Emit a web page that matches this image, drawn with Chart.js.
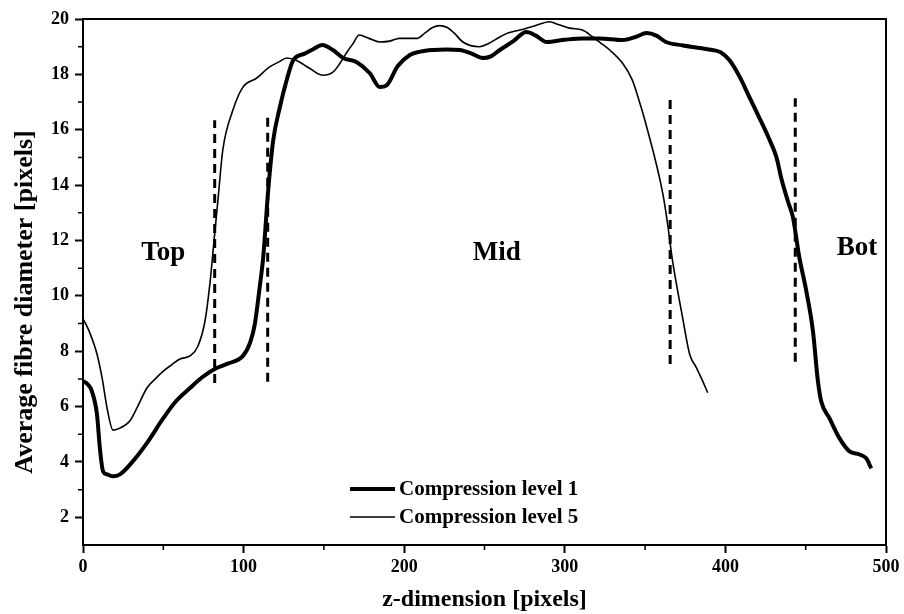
<!DOCTYPE html>
<html>
<head>
<meta charset="utf-8">
<script src="https://cdn.jsdelivr.net/npm/chart.js"></script>
<style>
  body { margin: 0; background: #fff; }
  canvas { display: block; }
</style>
</head>
<body>
<canvas id="chartFibre" width="904" height="614"></canvas>
<script>
const seriesNames = ['Compression level 1', 'Compression level 5'];

const level1X = [0, 3, 5.5, 8.7, 10.5, 12.5, 15, 18.7, 23, 31, 40, 50, 58, 66.6, 74, 82, 90, 99.6, 104, 107, 110,
  112.2, 115.3, 118.4, 122.6, 126.8, 130.9, 138, 143, 149, 155.6, 162, 170.5, 178.6, 184.8, 189, 196, 203.5, 210,
  218, 226, 234.6, 242, 249, 254, 259.5, 268, 276, 282, 288.7, 300, 311, 321.7, 336, 344, 351, 357, 363, 373,
  384, 392, 397, 402.6, 409, 415, 421, 427, 431.8, 435, 439, 442, 446, 450.3, 454.5, 457.6, 459.6, 464.8,
  471, 477.3, 483.5, 487.7, 490.8];
const level1Y = [6.92, 6.8, 6.56, 5.72, 4.5, 3.66, 3.55, 3.48, 3.55, 4.02, 4.7, 5.58, 6.2, 6.67, 7.05, 7.36, 7.55, 7.83, 8.3, 8.98, 10.3,
  11.39, 13.8, 15.6, 16.82, 17.79, 18.51, 18.75, 18.9, 19.06, 18.88, 18.59, 18.44, 18.04, 17.54, 17.6, 18.3, 18.7, 18.82,
  18.88, 18.9, 18.88, 18.75, 18.59, 18.65, 18.88, 19.2, 19.53, 19.4, 19.17, 19.25, 19.3, 19.3, 19.24, 19.35, 19.49, 19.4, 19.17, 19.05,
  18.95, 18.88, 18.8, 18.51, 17.9, 17.17, 16.45, 15.7, 15.0, 14.2, 13.4, 12.85, 11.4, 10.2, 8.73, 6.92, 6.2, 5.58,
  4.86, 4.38, 4.27, 4.13, 3.77];

const level5X = [0, 4, 8.7, 12, 15, 18.7, 22, 29, 34, 39.8, 45, 50, 55, 60.4, 66.6, 71.6, 76, 79, 82, 84, 87, 93.3,
  99.6, 108, 116, 122, 127, 133, 141, 149, 155.6, 160, 164, 168, 172, 178, 184.8, 191, 197, 208, 213, 218, 222, 226.5,
  231, 236.5, 247, 252, 259.5, 265, 272, 281, 290.6, 296, 303, 311, 317.4, 322, 328, 336, 342, 346, 351, 361,
  364, 367, 373.4, 377.7, 382, 386, 389];
const level5Y = [9.17, 8.7, 7.9, 7.0, 5.94, 5.15, 5.2, 5.47, 6.0, 6.67, 7.0, 7.28, 7.5, 7.72, 7.83, 8.19, 9.1, 10.43, 12.25, 13.44, 15.25, 16.7,
  17.54, 17.86, 18.26, 18.45, 18.59, 18.5, 18.22, 17.97, 18.08, 18.4, 18.77, 19.1, 19.42, 19.3, 19.17, 19.2, 19.3, 19.3, 19.5, 19.7, 19.76, 19.7,
  19.5, 19.17, 19.0, 19.1, 19.35, 19.5, 19.6, 19.75, 19.9, 19.8, 19.67, 19.6, 19.35, 19.15, 18.88, 18.4, 17.8, 17.1, 16.1, 13.7,
  12.6, 11.3, 9.2, 7.9, 7.4, 6.9, 6.5];

// region boundaries (dashed verticals)
const dividerX = [82, 115, 365.6, 443.5];
const dividerLow = [6.85, 6.9, 7.54, 7.62];
const dividerHigh = [16.34, 16.45, 17.07, 17.14];

const regionLabels = ['Top', 'Mid', 'Bot'];

const xTicks = [0, 100, 200, 300, 400, 500];
const yTicks = [2, 4, 6, 8, 10, 12, 14, 16, 18, 20];

const FONT = '"Liberation Serif", "Times New Roman", serif';

const toPoints = (xs, ys) => xs.map((x, i) => ({x: x, y: ys[i]}));

const datasets = [
  {
    label: seriesNames[0],
    data: toPoints(level1X, level1Y),
    borderColor: '#000',
    borderWidth: 4,
    pointRadius: 0,
    cubicInterpolationMode: 'monotone',
  },
  {
    label: seriesNames[1],
    data: toPoints(level5X, level5Y),
    borderColor: '#000',
    borderWidth: 1.6,
    pointRadius: 0,
    cubicInterpolationMode: 'monotone',
  },
];

dividerX.forEach((x, i) => {
  datasets.push({
    label: 'divider',
    data: [{x: x, y: dividerLow[i]}, {x: x, y: dividerHigh[i]}],
    borderColor: '#000',
    borderWidth: 3,
    borderDash: [9, 6],
    pointRadius: 0,
    tension: 0,
  });
});

// frame, minor ticks, region labels and the in-plot legend
const decorations = {
  id: 'decorations',
  afterDraw(chart) {
    const ctx = chart.ctx;
    const ca = chart.chartArea;
    const xs = chart.scales.x;
    const ys = chart.scales.y;
    ctx.save();
    ctx.strokeStyle = '#000';
    ctx.lineWidth = 2;
    ctx.strokeRect(ca.left, ca.top, ca.right - ca.left, ca.bottom - ca.top);

    ctx.lineWidth = 1.5;
    ctx.beginPath();
    for (let v = 3; v < 20; v += 2) {
      const py = ys.getPixelForValue(v);
      ctx.moveTo(ca.left - 5, py);
      ctx.lineTo(ca.left, py);
    }
    for (let v = 50; v < 500; v += 100) {
      const px = xs.getPixelForValue(v);
      ctx.moveTo(px, ca.bottom);
      ctx.lineTo(px, ca.bottom + 5);
    }
    ctx.stroke();

    ctx.fillStyle = '#000';
    ctx.font = 'bold 27px ' + FONT;
    ctx.textAlign = 'center';
    ctx.textBaseline = 'middle';
    const labelAt = [[50, 11.56], [257.6, 11.56], [482, 11.74]];
    regionLabels.forEach((t, i) => {
      ctx.fillText(t, xs.getPixelForValue(labelAt[i][0]), ys.getPixelForValue(labelAt[i][1]));
    });

    ctx.font = 'bold 21px ' + FONT;
    ctx.textAlign = 'left';
    const lx = ca.left + 267;
    const rows = [ca.bottom - 56, ca.bottom - 28];
    const widths = [4, 1.6];
    seriesNames.forEach((name, i) => {
      ctx.lineWidth = widths[i];
      ctx.beginPath();
      ctx.moveTo(lx, rows[i]);
      ctx.lineTo(lx + 45, rows[i]);
      ctx.stroke();
      ctx.fillText(name, lx + 49, rows[i] + 1);
    });

    // y axis title, centred a little below the plot middle as in the original
    ctx.font = 'bold 26px ' + FONT;
    ctx.textAlign = 'center';
    ctx.translate(25, ca.top + (ca.bottom - ca.top) / 2 + 20);
    ctx.rotate(-Math.PI / 2);
    ctx.fillText('Average fibre diameter [pixels]', 0, 0);
    ctx.restore();
  }
};

const options = {
  responsive: false,
  animation: false,
  devicePixelRatio: 1,
  layout: { padding: { top: 19, right: 18, left: 0, bottom: 0 } },
  plugins: {
    legend: { display: false },
    tooltip: { enabled: false },
  },
  scales: {
    x: {
      type: 'linear',
      min: 0,
      max: 500,
      afterBuildTicks: s => { s.ticks = xTicks.map(v => ({value: v})); },
      afterFit: s => { s.height = 69; },
      grid: { drawOnChartArea: false, drawTicks: true, tickLength: 8, tickColor: '#000', tickWidth: 2 },
      border: { display: true, color: '#000', width: 2 },
      ticks: { color: '#000', padding: 4, maxRotation: 0, font: { family: FONT, size: 18, weight: 'bold' } },
      title: { display: true, text: 'z-dimension [pixels]', color: '#000', padding: 0,
               font: { family: FONT, size: 24, weight: 'bold' } },
    },
    y: {
      type: 'linear',
      min: 1,
      max: 20,
      afterBuildTicks: s => { s.ticks = yTicks.map(v => ({value: v})); },
      afterFit: s => { s.width = 83; },
      grid: { drawOnChartArea: false, drawTicks: true, tickLength: 8, tickColor: '#000', tickWidth: 2 },
      border: { display: true, color: '#000', width: 2 },
      ticks: { color: '#000', padding: 6, font: { family: FONT, size: 18, weight: 'bold' } },
      title: { display: false },
    },
  },
};

const chartFibre = new Chart(document.getElementById('chartFibre'), {
  type: 'line',
  data: { datasets: datasets },
  options: options,
  plugins: [decorations],
});
</script>
</body>
</html>
